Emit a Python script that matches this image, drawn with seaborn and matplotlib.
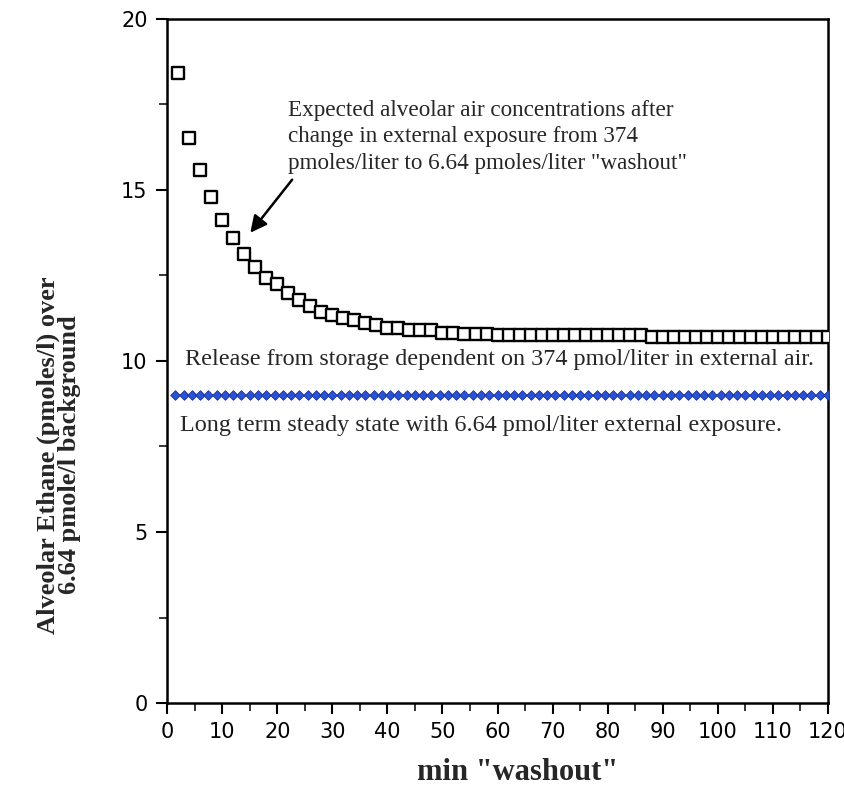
import matplotlib
matplotlib.use("Agg")
import matplotlib.pyplot as plt
import seaborn as sns
import pandas as pd
from matplotlib.ticker import MultipleLocator

# ---- data ----
washout_min = [2, 4, 6, 8, 10, 12, 14, 16, 18, 20, 22, 24, 26, 28, 30, 32, 34, 36, 38, 40,
               42, 44, 46, 48, 50, 52, 54, 56, 58, 60, 62, 64, 66, 68, 70, 72, 74, 76, 78, 80,
               82, 84, 86, 88, 90, 92, 94, 96, 98, 100, 102, 104, 106, 108, 110, 112, 114, 116, 118, 120]
alveolar = [18.43, 16.51, 15.58, 14.80, 14.12, 13.59, 13.13, 12.74, 12.44, 12.24,
            12.00, 11.78, 11.61, 11.44, 11.35, 11.27, 11.20, 11.12, 11.05, 10.97,
            10.97, 10.91, 10.91, 10.91, 10.81, 10.81, 10.80, 10.80, 10.80, 10.76,
            10.76, 10.76, 10.76, 10.76, 10.76, 10.76, 10.76, 10.76, 10.76, 10.76,
            10.76, 10.76, 10.76, 10.71, 10.71, 10.71, 10.71, 10.71, 10.71, 10.71,
            10.71, 10.71, 10.71, 10.71, 10.71, 10.71, 10.71, 10.71, 10.71, 10.71]

steady_min = [1.5, 3, 4.5, 6, 7.5, 9, 10.5, 12, 13.5, 15, 16.5, 18, 19.5, 21, 22.5, 24,
              25.5, 27, 28.5, 30, 31.5, 33, 34.5, 36, 37.5, 39, 40.5, 42, 43.5, 45, 46.5, 48,
              49.5, 51, 52.5, 54, 55.5, 57, 58.5, 60, 61.5, 63, 64.5, 66, 67.5, 69, 70.5, 72,
              73.5, 75, 76.5, 78, 79.5, 81, 82.5, 84, 85.5, 87, 88.5, 90, 91.5, 93, 94.5, 96,
              97.5, 99, 100.5, 102, 103.5, 105, 106.5, 108, 109.5, 111, 112.5, 114, 115.5, 117,
              118.5, 120]
steady_level = 9.0
steady_vals = [steady_level for _ in steady_min]

x_ticks = [0, 10, 20, 30, 40, 50, 60, 70, 80, 90, 100, 110, 120]
y_ticks = [0, 5, 10, 15, 20]

df_wash = pd.DataFrame({"min": washout_min, "val": alveolar})
df_steady = pd.DataFrame({"min": steady_min, "val": steady_vals})

sns.set_style("ticks")
plt.rcParams["font.family"] = ["DejaVu Sans"]

fig = plt.figure(figsize=(8.44, 7.94), dpi=100)
ax = fig.add_axes([0.198, 0.1146, 0.783, 0.8615])

sns.scatterplot(data=df_steady, x="min", y="val", ax=ax, marker="D", s=24,
                color="#2a52d4", edgecolor="#1a2f9a", linewidth=0.6, zorder=3)
sns.scatterplot(data=df_wash, x="min", y="val", ax=ax, marker="s", s=64,
                facecolor="white", edgecolor="black", linewidth=1.7, zorder=4)

ax.set_xlim(0, 120)
ax.set_ylim(0, 20)
ax.set_xticks(x_ticks)
ax.set_yticks(y_ticks)
ax.xaxis.set_minor_locator(MultipleLocator(5))
ax.yaxis.set_minor_locator(MultipleLocator(2.5))
ax.tick_params(axis="both", which="major", direction="out", length=8, width=1.5,
               labelsize=15, colors="black", pad=6)
ax.tick_params(axis="both", which="minor", direction="out", length=6, width=1.3)

for sp in ax.spines.values():
    sp.set_visible(True)
    sp.set_linewidth(1.8)
    sp.set_color("black")

serif = ["Liberation Serif", "DejaVu Serif"]
ax.set_xlabel('min "washout"', fontsize=22, fontweight="bold", family=serif)
ax.xaxis.set_label_coords(0.53, -0.102)
ax.xaxis.label.set_verticalalignment("center")
ax.set_ylabel("Alveolar Ethane (pmoles/l) over\n6.64 pmole/l background", fontsize=19,
              fontweight="bold", family=serif, linespacing=0.9)
ax.yaxis.set_label_coords(-0.164, 0.363)
ax.yaxis.label.set_verticalalignment("center")

ax.text(22, 17.62, "Expected alveolar air concentrations after\nchange in external exposure from 374\n"
        "pmoles/liter to 6.64 pmoles/liter \"washout\"",
        fontsize=16.7, family=serif, ha="left", va="top", linespacing=1.32)
ax.annotate("", xy=(15.1, 13.75), xytext=(22.7, 15.3),
            arrowprops=dict(arrowstyle="-|>,head_length=1.0,head_width=0.5",
                            color="black", lw=1.8, shrinkA=0, shrinkB=0))

ax.text(3.2, 10.03, "Release from storage dependent on 374 pmol/liter in external air.",
        fontsize=17.4, family=serif, ha="left", va="center")
ax.text(2.4, 8.1, "Long term steady state with 6.64 pmol/liter external exposure.",
        fontsize=17.4, family=serif, ha="left", va="center")

fig.savefig("out.png", dpi=100, facecolor="white")
